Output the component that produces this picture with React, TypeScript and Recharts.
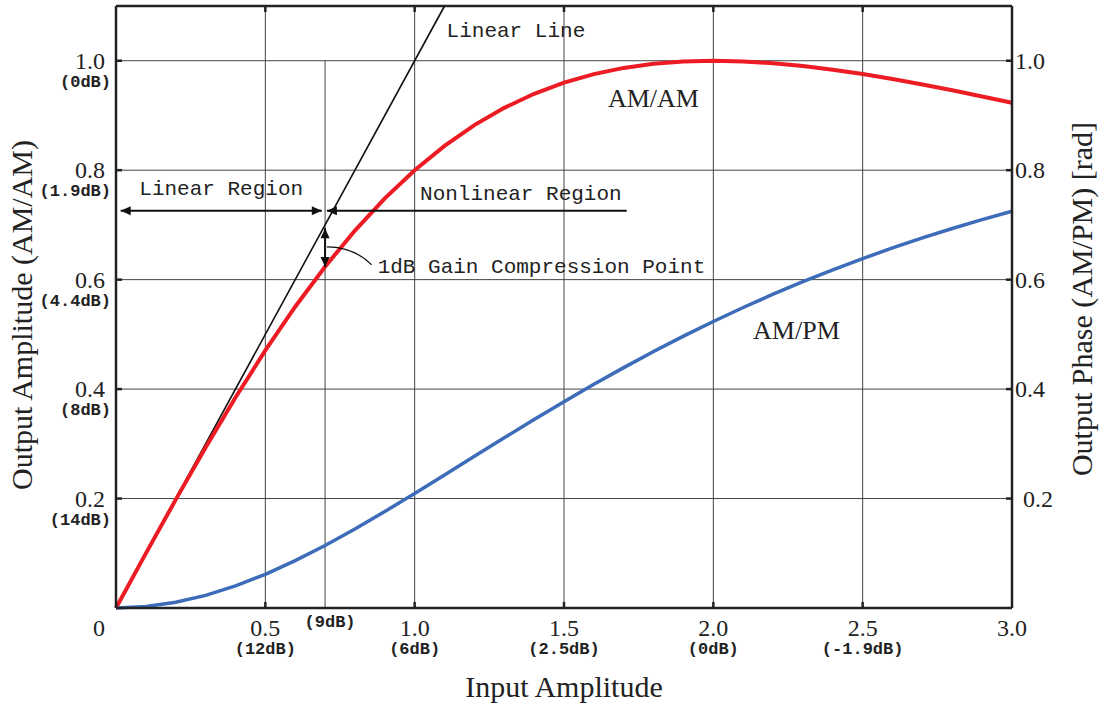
import React from 'react';
import { LineChart, Line, XAxis, YAxis, CartesianGrid, ReferenceLine, ReferenceDot, Label } from 'recharts';

// input amplitude samples and the two measured curves
const inputAmp = [0, 0.1, 0.2, 0.3, 0.4, 0.5, 0.6, 0.7, 0.8, 0.9, 1.0, 1.1, 1.2, 1.3, 1.4, 1.5, 1.6, 1.7, 1.8, 1.9, 2.0, 2.1, 2.2, 2.3, 2.4, 2.5, 2.6, 2.7, 2.8, 2.9, 3.0];
const amAm = [0, 0.0998, 0.198, 0.2934, 0.3846, 0.4706, 0.5505, 0.6236, 0.6897, 0.7484, 0.8, 0.8445, 0.8824, 0.9139, 0.9396, 0.96, 0.9756, 0.9869, 0.9945, 0.9987, 1.0, 0.9988, 0.9955, 0.9903, 0.9836, 0.9756, 0.9665, 0.9566, 0.9459, 0.9347, 0.9231];
const amPm = [0, 0.0026, 0.0104, 0.023, 0.0403, 0.0616, 0.0865, 0.1143, 0.1444, 0.1763, 0.2094, 0.2432, 0.2772, 0.311, 0.3444, 0.377, 0.4087, 0.4392, 0.4686, 0.4968, 0.5236, 0.5491, 0.5734, 0.5963, 0.618, 0.6385, 0.6579, 0.6762, 0.6934, 0.7097, 0.725];

// ideal linear gain line
const linearIn = [0, 1.1];
const linearOut = [0, 1.1];

const xTicks = [0, 0.5, 0.7, 1.0, 1.5, 2.0, 2.5, 3.0];
const xTickLabels = ['0', '0.5', '', '1.0', '1.5', '2.0', '2.5', '3.0'];
const xDbLabels = ['', '(12dB)', '(9dB)', '(6dB)', '(2.5dB)', '(0dB)', '(-1.9dB)', ''];
const xGrid = [0.5, 1.0, 1.5, 2.0, 2.5];

const yTicks = [0.2, 0.4, 0.6, 0.8, 1.0];
const yTickLabels = ['0.2', '0.4', '0.6', '0.8', '1.0'];
const yDbLabels = ['(14dB)', '(8dB)', '(4.4dB)', '(1.9dB)', '(0dB)'];

const data = inputAmp.map((x, i) => ({ x, amam: amAm[i], ampm: amPm[i] }));
const linearData = linearIn.map((x, i) => ({ x, lin: linearOut[i] }));

const SERIF = '"Liberation Serif", "Times New Roman", serif';
const MONO = '"Liberation Mono", "Courier New", monospace';
const INK = '#222';

const idx = (arr: number[], v: number) => arr.findIndex(a => Math.abs(a - v) < 1e-6);

const XTick = (props: any) => {
  const { x, y, payload } = props;
  const i = idx(xTicks, payload.value);
  if (i < 0) return null;
  if (payload.value === 0) {
    return <text x={x - 17} y={y + 28} textAnchor="middle" fontFamily={SERIF} fontSize={24} fill={INK}>{xTickLabels[i]}</text>;
  }
  if (xTickLabels[i] === '') {
    return <text x={x + 5} y={y + 19} textAnchor="middle" fontFamily={MONO} fontWeight="bold" fontSize={17} fill={INK}>{xDbLabels[i]}</text>;
  }
  return (
    <g>
      <text x={x} y={y + 28} textAnchor="middle" fontFamily={SERIF} fontSize={24} fill={INK}>{xTickLabels[i]}</text>
      {xDbLabels[i] && <text x={x} y={y + 46} textAnchor="middle" fontFamily={MONO} fontWeight="bold" fontSize={17} fill={INK}>{xDbLabels[i]}</text>}
    </g>
  );
};

const LeftTick = (props: any) => {
  const { x, y, payload } = props;
  const i = idx(yTicks, payload.value);
  if (i < 0) return null;
  return (
    <g>
      <line x1={x} y1={y} x2={x + 6} y2={y} stroke={INK} strokeWidth={2.5} />
      <text x={x - 11} y={y + 8} textAnchor="end" fontFamily={SERIF} fontSize={24} fill={INK}>{yTickLabels[i]}</text>
      <text x={x - 5} y={y + 26} textAnchor="end" fontFamily={MONO} fontWeight="bold" fontSize={17} fill={INK}>{yDbLabels[i]}</text>
    </g>
  );
};

const RightTick = (props: any) => {
  const { x, y, payload } = props;
  const i = idx(yTicks, payload.value);
  if (i < 0) return null;
  const dx = payload.value === 0.2 ? 11 : 3;
  return (
    <g>
      <line x1={x - 6} y1={y} x2={x} y2={y} stroke={INK} strokeWidth={2.5} />
      <text x={x + dx} y={y + 8} textAnchor="start" fontFamily={SERIF} fontSize={24} fill={INK}>{yTickLabels[i]}</text>
    </g>
  );
};

// vertical grid line with short heavy ticks at top and bottom
const gridShape = (p: any) => {
  const top = Math.min(p.y1, p.y2);
  const bot = Math.max(p.y1, p.y2);
  return (
    <g>
      <line x1={p.x1} y1={top} x2={p.x1} y2={bot} stroke="#444" strokeWidth={1} />
      <line x1={p.x1} y1={top} x2={p.x1} y2={top + 6} stroke={INK} strokeWidth={2.5} />
      <line x1={p.x1} y1={bot - 6} x2={p.x1} y2={bot} stroke={INK} strokeWidth={2.5} />
    </g>
  );
};

const head = (tx: number, ty: number, ux: number, uy: number, len = 10, half = 4.5) => {
  const bx = tx - ux * len;
  const by = ty - uy * len;
  return `${tx},${ty} ${bx - uy * half},${by + ux * half} ${bx + uy * half},${by - ux * half}`;
};

const arrowShape = (startHead: boolean, endHead: boolean) => (p: any) => {
  const { x1, y1, x2, y2 } = p;
  const d = Math.hypot(x2 - x1, y2 - y1) || 1;
  const ux = (x2 - x1) / d;
  const uy = (y2 - y1) / d;
  return (
    <g>
      <line x1={x1} y1={y1} x2={x2} y2={y2} stroke="#111" strokeWidth={2} />
      {startHead && <polygon points={head(x1, y1, -ux, -uy)} fill="#111" />}
      {endHead && <polygon points={head(x2, y2, ux, uy)} fill="#111" />}
    </g>
  );
};

const leaderShape = (p: any) => {
  const { x1, y1, x2, y2 } = p;
  const cx = x1 + (x2 - x1) * 0.6;
  return <path d={`M${x1},${y1} Q${cx},${y1} ${x2},${y2}`} fill="none" stroke="#111" strokeWidth={1.2} />;
};

const textShape = (txt: string, font: string, size: number) => (p: any) => (
  <text x={p.cx} y={p.cy} fontFamily={font} fontSize={size} fill={INK}>{txt}</text>
);

export default function App() {
  return (
    <div style={{ position: 'absolute', left: 0, top: 0 }}>
      <LineChart width={1100} height={707} data={data} margin={{ top: 6, right: 28, bottom: 59, left: 56 }}>
        <CartesianGrid vertical={false} stroke="#444" strokeWidth={1} />
        <XAxis
          dataKey="x"
          type="number"
          domain={[0, 3]}
          ticks={xTicks}
          interval={0}
          tickSize={0}
          tickMargin={0}
          height={40}
          tick={(p: any) => <XTick {...p} />}
          axisLine={{ stroke: INK, strokeWidth: 2.5 }}
          tickLine={false}
        >
          <Label
            content={(p: any) => {
              const vb = p.viewBox;
              return <text x={vb.x + vb.width / 2} y={697} textAnchor="middle" fontFamily={SERIF} fontSize={30} fill={INK}>Input Amplitude</text>;
            }}
          />
        </XAxis>
        <YAxis
          type="number"
          domain={[0, 1.1]}
          ticks={yTicks}
          interval={0}
          width={60}
          tickSize={0}
          tickMargin={0}
          tick={(p: any) => <LeftTick {...p} />}
          axisLine={{ stroke: INK, strokeWidth: 2.5 }}
          tickLine={false}
        >
          <Label
            content={() => (
              <text transform="translate(32,315) rotate(-90)" x={0} y={0} textAnchor="middle" fontFamily={SERIF} fontSize={30} fill={INK}>Output Amplitude (AM/AM)</text>
            )}
          />
        </YAxis>
        <YAxis
          yAxisId="right"
          orientation="right"
          type="number"
          domain={[0, 1.1]}
          ticks={yTicks}
          interval={0}
          width={60}
          tickSize={0}
          tickMargin={0}
          tick={(p: any) => <RightTick {...p} />}
          axisLine={{ stroke: INK, strokeWidth: 2.5 }}
          tickLine={false}
        >
          <Label
            content={() => (
              <text transform="translate(1092,299) rotate(-90)" x={0} y={0} textAnchor="middle" fontFamily={SERIF} fontSize={30} fill={INK}>Output Phase (AM/PM) [rad]</text>
            )}
          />
        </YAxis>

        {xGrid.map(v => (
          <ReferenceLine key={v} x={v} shape={gridShape} />
        ))}
        <ReferenceLine segment={[{ x: 0.7, y: 0 }, { x: 0.7, y: 1.0 }]} stroke="#444" strokeWidth={1} />
        <ReferenceLine y={1.1} stroke={INK} strokeWidth={2.5} />

        <Line data={linearData} dataKey="lin" type="linear" stroke="#111" strokeWidth={1.6} dot={false} isAnimationActive={false} />
        <Line dataKey="amam" type="linear" stroke="#ed1c24" strokeWidth={4} dot={false} isAnimationActive={false} />
        <Line yAxisId="right" dataKey="ampm" type="linear" stroke="#3d6cb9" strokeWidth={3.5} dot={false} isAnimationActive={false} />

        <ReferenceLine segment={[{ x: 0.0157, y: 0.726 }, { x: 0.689, y: 0.726 }]} shape={arrowShape(true, true)} />
        <ReferenceLine segment={[{ x: 0.706, y: 0.726 }, { x: 1.71, y: 0.726 }]} shape={arrowShape(true, false)} />
        <ReferenceLine segment={[{ x: 0.7, y: 0.694 }, { x: 0.7, y: 0.623 }]} shape={arrowShape(true, true)} />
        <ReferenceLine segment={[{ x: 0.706, y: 0.66 }, { x: 0.856, y: 0.627 }]} shape={leaderShape} />

        <ReferenceDot x={1.107} y={1.044} r={0} shape={textShape('Linear Line', MONO, 21)} />
        <ReferenceDot x={1.647} y={0.916} r={0} shape={textShape('AM/AM', SERIF, 26)} />
        <ReferenceDot x={2.133} y={0.491} r={0} shape={textShape('AM/PM', SERIF, 26)} />
        <ReferenceDot x={0.078} y={0.7546} r={0} shape={textShape('Linear Region', MONO, 21)} />
        <ReferenceDot x={1.018} y={0.7455} r={0} shape={textShape('Nonlinear Region', MONO, 21)} />
        <ReferenceDot x={0.876} y={0.6127} r={0} shape={textShape('1dB Gain Compression Point', MONO, 21)} />
      </LineChart>
    </div>
  );
}
